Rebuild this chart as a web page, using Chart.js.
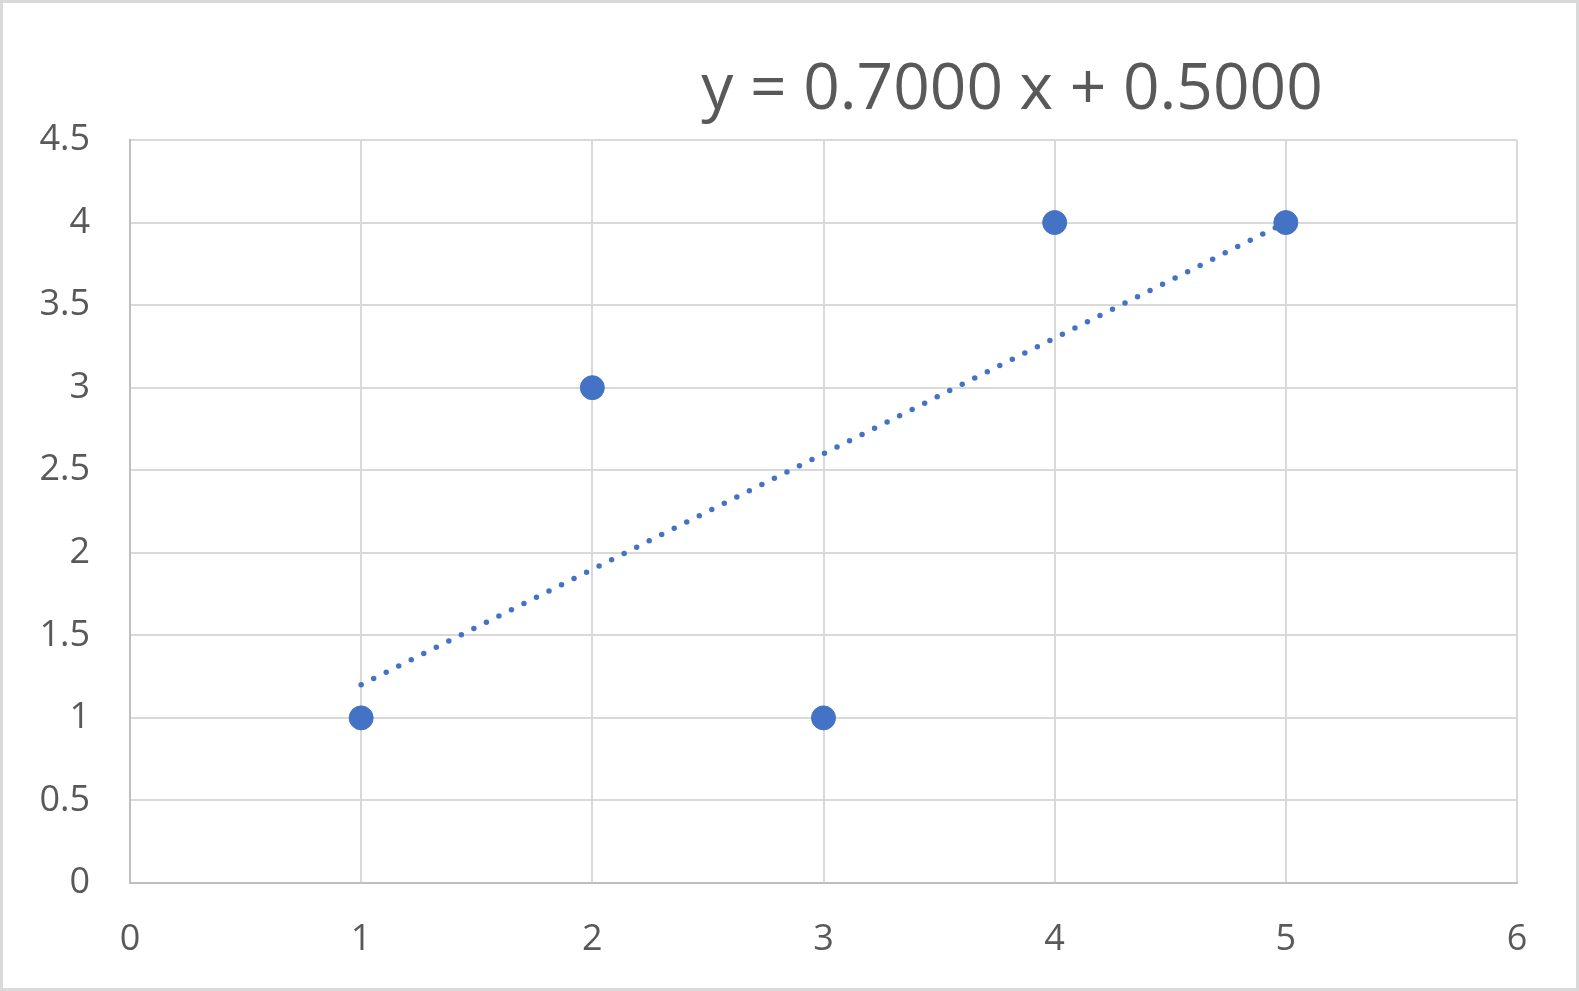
<!DOCTYPE html>
<html>
<head>
<meta charset="utf-8">
<script src="https://cdn.jsdelivr.net/npm/chart.js@4"></script>
<style>
  html, body { margin: 0; padding: 0; background: #fff; }
  #wrap { width: 1579px; height: 991px; position: relative; }
</style>
</head>
<body>
<div id="wrap"><canvas id="chartTrend"></canvas></div>
<script>
const xValues = [1, 2, 3, 4, 5]
const yValues = [1, 3, 1, 4, 4]
const trendX = [1, 5]
const trendY = [1.2, 4.0]
const titleText = 'y = 0.7000 x + 0.5000'

const blue = '#4472C4'
const textColor = '#595959'
const gridColor = '#d9d9d9'
const fontFamily = '"Open Sans", "Noto Sans", sans-serif'

Chart.defaults.color = textColor
Chart.defaults.font.family = fontFamily

// fundo branco, borda e título da equação
const frame = {
    id: 'frame',
    beforeDraw(chart) {
        const c = chart.ctx
        c.save()
        c.fillStyle = '#fff'
        c.fillRect(0, 0, chart.width, chart.height)
        c.strokeStyle = gridColor
        c.lineWidth = 3
        c.strokeRect(1.5, 1.5, chart.width - 3, chart.height - 3)
        c.restore()
    },
    afterDraw(chart) {
        const c = chart.ctx
        c.save()
        c.fillStyle = textColor
        c.font = '64px ' + fontFamily
        c.textAlign = 'center'
        c.textBaseline = 'alphabetic'
        c.fillText(titleText, 1012, 109)
        c.restore()
    }
}

new Chart(document.getElementById('chartTrend'), {
    type: 'scatter',
    data: {
        datasets: [
            {
                data: xValues.map((x, i) => ({ x, y: yValues[i] })),
                backgroundColor: blue,
                borderColor: blue,
                pointRadius: 12,
                pointHoverRadius: 12
            },
            {
                data: trendX.map((x, i) => ({ x, y: trendY[i] })),
                showLine: true,
                borderColor: blue,
                borderWidth: 5.5,
                borderDash: [0, 14],
                borderCapStyle: 'round',
                pointRadius: 0
            }
        ]
    },
    options: {
        responsive: true,
        maintainAspectRatio: false,
        animation: false,
        layout: { padding: { top: 140, right: 62, left: 0, bottom: 0 } },
        plugins: { legend: { display: false }, tooltip: { enabled: false } },
        scales: {
            x: {
                type: 'linear',
                min: 0, max: 6,
                ticks: { stepSize: 1, padding: 35, font: { size: 36 }, color: textColor },
                grid: { color: gridColor, lineWidth: 2, drawTicks: false },
                border: { color: '#bfbfbf', width: 2 },
                afterFit: s => { s.height = 108 }
            },
            y: {
                min: 0, max: 4.5,
                ticks: {
                    stepSize: 0.5, padding: 40, font: { size: 36 }, color: textColor,
                    callback: v => String(v) // 4 em vez de 4.0
                },
                grid: { color: gridColor, lineWidth: 2, drawTicks: false },
                border: { color: '#bfbfbf', width: 2 },
                afterFit: s => { s.width = 130 }
            }
        }
    },
    plugins: [frame]
})
</script>
</body>
</html>
